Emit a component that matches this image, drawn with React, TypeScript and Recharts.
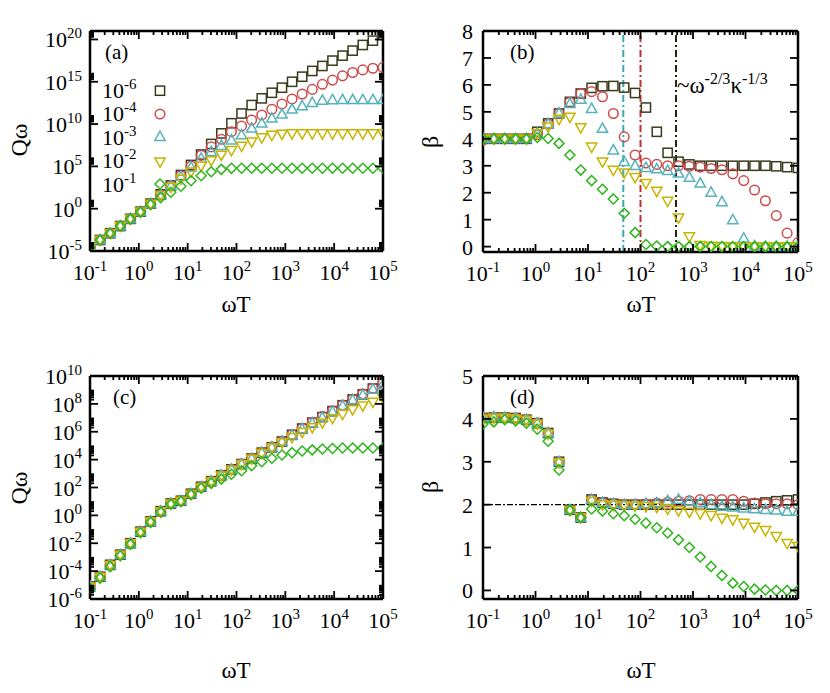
import React from "react";
import { ScatterChart, Scatter, XAxis, YAxis, ReferenceLine } from "recharts";

const FONT = '"Liberation Serif", "Times New Roman", serif';

// omega*T sample points, 30 log-spaced values per run
const omegaT = [
  0.1, 0.161, 0.2593, 0.4175, 0.6723, 1.0826, 1.7433, 2.807, 4.52, 7.279,
  11.72, 18.87, 30.39, 48.94, 78.8, 126.9, 204.3, 329.0, 529.8, 853.1,
  1374, 2212, 3562, 5736, 9237, 14874, 23950, 38566, 62102, 100000,
];

// kappa values of the five runs (legend exponents)
const kappaExp = ["-6", "-4", "-3", "-2", "-1"];

// (a) log10 Q_omega
const aK6 = [-4.6, -3.7, -2.9, -2.05, -1.2, -0.35, 0.6, 1.7, 2.75, 3.98, 5.17, 6.4, 7.65, 8.9, 10.1, 11.25, 12.25, 13.04, 13.7, 14.3, 15.0, 15.6, 16.28, 16.87, 17.5, 18.09, 18.68, 19.35, 19.86, 20.53];
const aK4 = [-4.6, -3.7, -2.9, -2.05, -1.2, -0.37, 0.58, 1.65, 2.7, 3.9, 5.05, 6.3, 7.3, 8.2, 9.1, 9.78, 10.49, 11.08, 11.75, 12.38, 12.97, 13.56, 14.1, 14.7, 15.2, 15.7, 16.1, 16.4, 16.6, 16.7];
const aK3 = [-4.6, -3.7, -2.9, -2.05, -1.2, -0.37, 0.57, 1.62, 2.68, 3.8, 4.9, 5.95, 6.75, 7.45, 8.1, 8.71, 9.5, 10.1, 10.69, 11.16, 11.75, 12.14, 12.53, 12.8, 12.86, 12.87, 12.87, 12.87, 12.87, 12.87];
const aK2 = [-4.6, -3.7, -2.9, -2.05, -1.2, -0.38, 0.55, 1.55, 2.55, 3.5, 4.35, 5.05, 5.7, 6.35, 6.9, 7.41, 7.92, 8.4, 8.7, 8.83, 8.87, 8.87, 8.87, 8.87, 8.87, 8.87, 8.87, 8.87, 8.87, 8.87];
const aK1 = [-4.6, -3.7, -2.9, -2.05, -1.2, -0.4, 0.5, 1.3, 1.94, 2.65, 3.3, 3.9, 4.37, 4.65, 4.77, 4.78, 4.78, 4.78, 4.78, 4.78, 4.78, 4.78, 4.78, 4.78, 4.78, 4.78, 4.78, 4.78, 4.78, 4.78];

// (b) beta
const bK6 = [4.0, 4.0, 4.0, 4.0, 4.0, 4.26, 4.57, 4.94, 5.37, 5.68, 5.89, 5.95, 5.96, 5.9, 5.7, 5.16, 4.26, 3.48, 3.15, 3.05, 3.0, 3.0, 3.0, 3.0, 3.0, 3.0, 3.0, 2.98, 2.95, 2.92];
const bK4 = [3.95, 4.0, 4.0, 4.0, 4.02, 4.15, 4.55, 4.95, 5.35, 5.68, 5.75, 5.56, 4.94, 4.07, 3.4, 3.1, 3.05, 3.0, 3.0, 2.98, 2.95, 2.9, 2.85, 2.7, 2.45, 2.1, 1.7, 1.15, 0.5, 0.15];
const bK3 = [4.0, 4.0, 4.0, 4.0, 4.0, 4.2, 4.55, 4.95, 5.3, 5.46, 5.12, 4.38, 3.58, 3.15, 3.0, 2.93, 2.88, 2.82, 2.72, 2.57, 2.35, 2.01, 1.66, 0.99, 0.31, 0.02, 0.0, 0.0, 0.0, 0.0];
const bK2 = [4.0, 4.0, 4.0, 4.0, 4.0, 4.2, 4.45, 4.73, 4.81, 4.42, 3.7, 3.15, 2.84, 2.74, 2.57, 2.35, 2.06, 1.69, 1.07, 0.37, 0.05, 0.02, 0.01, 0.0, 0.0, 0.0, 0.0, 0.0, 0.0, 0.0];
const bK1 = [4.0, 4.0, 4.0, 4.0, 4.0, 4.05, 4.01, 3.83, 3.4, 2.84, 2.45, 2.13, 1.77, 1.24, 0.52, 0.08, 0.02, 0.0, 0.0, 0.0, 0.0, 0.0, 0.0, 0.0, 0.0, 0.0, 0.0, 0.0, 0.0, 0.0];

// (c) log10 Q_omega
const cK6 = [-5.1, -4.4, -3.55, -2.82, -2.0, -1.17, -0.43, 0.3, 0.85, 1.05, 1.55, 2.05, 2.45, 2.88, 3.3, 3.68, 4.08, 4.5, 4.88, 5.3, 5.78, 6.23, 6.65, 7.05, 7.48, 7.9, 8.32, 8.68, 9.1, 9.5];
const cK4 = [-5.08, -4.38, -3.55, -2.82, -2.0, -1.17, -0.43, 0.3, 0.85, 1.05, 1.55, 2.05, 2.45, 2.88, 3.3, 3.7, 4.1, 4.52, 4.92, 5.34, 5.8, 6.25, 6.68, 7.1, 7.5, 7.92, 8.33, 8.72, 9.12, 9.55];
const cK3 = [-5.1, -4.4, -3.55, -2.82, -2.0, -1.17, -0.43, 0.3, 0.85, 1.05, 1.55, 2.05, 2.45, 2.88, 3.3, 3.68, 4.08, 4.5, 4.88, 5.3, 5.76, 6.2, 6.62, 7.02, 7.44, 7.86, 8.28, 8.64, 9.04, 9.42];
const cK2 = [-5.12, -4.42, -3.58, -2.84, -2.02, -1.19, -0.45, 0.28, 0.83, 1.03, 1.52, 2.02, 2.42, 2.84, 3.26, 3.66, 4.05, 4.45, 4.84, 5.22, 5.6, 5.97, 6.31, 6.65, 6.97, 7.27, 7.6, 7.87, 8.13, 8.42];
const cK1 = [-5.25, -4.5, -3.68, -2.9, -2.08, -1.25, -0.5, 0.22, 0.8, 1.0, 1.5, 1.95, 2.3, 2.6, 2.95, 3.2, 3.57, 3.85, 4.1, 4.33, 4.5, 4.62, 4.7, 4.76, 4.8, 4.83, 4.83, 4.83, 4.83, 4.83];

// (d) beta
const dK6 = [4.02, 4.03, 4.03, 4.02, 3.98, 3.9, 3.67, 3.0, 1.88, 1.7, 2.12, 2.05, 2.02, 2.0, 2.0, 2.0, 2.0, 2.0, 2.0, 2.0, 2.0, 2.0, 2.0, 2.0, 2.0, 2.02, 2.05, 2.08, 2.1, 2.12];
const dK4 = [4.03, 4.03, 4.03, 4.02, 3.98, 3.9, 3.67, 3.0, 1.88, 1.7, 2.12, 2.05, 2.02, 2.01, 2.01, 2.02, 2.04, 2.06, 2.08, 2.09, 2.12, 2.12, 2.12, 2.12, 2.08, 2.04, 2.02, 2.02, 2.02, 2.0];
const dK3 = [4.03, 4.05, 4.03, 4.02, 3.98, 3.9, 3.67, 3.0, 1.88, 1.7, 2.12, 2.05, 2.02, 2.0, 2.0, 2.02, 2.04, 2.09, 2.12, 2.08, 2.04, 2.0, 1.96, 1.94, 1.92, 1.9, 1.88, 1.87, 1.84, 1.84];
const dK2 = [4.0, 4.02, 4.02, 4.0, 3.97, 3.88, 3.65, 2.98, 1.87, 1.7, 2.08, 2.0, 1.99, 1.98, 1.97, 1.96, 1.94, 1.9, 1.86, 1.83, 1.79, 1.75, 1.69, 1.65, 1.57, 1.48, 1.4, 1.26, 1.1, 1.03];
const dK1 = [3.88, 3.93, 3.98, 3.95, 3.9, 3.76, 3.48, 2.81, 1.87, 1.7, 1.9, 1.85, 1.79, 1.74, 1.66, 1.57, 1.46, 1.34, 1.18, 1.0, 0.78, 0.56, 0.35, 0.17, 0.09, 0.03, 0.01, 0.0, 0.0, 0.0];

// crossover frequencies marked in (b)
const crossK3 = 47;
const crossK4 = 100;
const crossK6 = 475;

const kinds = ["square", "circle", "tri", "itri", "diam"];
const colors = ["#3a3a1c", "#cc4a4a", "#55b2bc", "#c8b400", "#2db51a"];

const TICK_FONT = 22;

const xMajors = [0.1, 1, 10, 100, 1000, 10000, 100000];
const withMinors = (majors: number[], max: number) => {
  const out: number[] = [];
  majors.forEach((m) => {
    out.push(m);
    for (let j = 2; j <= 9; j++) if (m * j <= max) out.push(m * j);
  });
  return out;
};

const isMajor = (v: number, majors: number[]) =>
  majors.some((m) => Math.abs(m - v) <= Math.abs(m) * 1e-9);

const toPoints = (ys: number[], log: boolean) =>
  omegaT.map((x, i) => ({ x, y: log ? Math.pow(10, ys[i]) : ys[i] }));

const Marker = ({ cx, cy, kind, color }: any) => {
  if (cx == null || cy == null) return <g />;
  const s = { fill: "none", stroke: color, strokeWidth: 1.5 };
  if (kind === "square") return <rect x={cx - 4.6} y={cy - 4.6} width={9.2} height={9.2} {...s} />;
  if (kind === "circle") return <circle cx={cx} cy={cy} r={4.8} {...s} />;
  if (kind === "tri")
    return <polygon points={`${cx},${cy - 5.5} ${cx - 5.2},${cy + 3.8} ${cx + 5.2},${cy + 3.8}`} {...s} />;
  if (kind === "itri")
    return <polygon points={`${cx},${cy + 5.5} ${cx - 5.2},${cy - 3.8} ${cx + 5.2},${cy - 3.8}`} {...s} />;
  return <polygon points={`${cx},${cy - 5} ${cx + 5},${cy} ${cx},${cy + 5} ${cx - 5},${cy}`} {...s} />;
};

const Pow = ({ x, y, exp, anchor, size = TICK_FONT }: any) => (
  <text x={x} y={y} textAnchor={anchor} fontFamily={FONT} fontSize={size} fill="#000">
    10
    <tspan dy={-size * 0.42} fontSize={size * 0.68}>
      {exp}
    </tspan>
  </text>
);

const AXIS = { stroke: "#000", strokeWidth: 2.5 };

const xTick = (side: string, labelDy: number) => (p: any) => {
  const v = p.payload.value;
  const major = isMajor(v, xMajors);
  const len = major ? 8 : 4;
  const dir = side === "bottom" ? -1 : 1;
  return (
    <g>
      <line x1={p.x} y1={p.y} x2={p.x} y2={p.y + dir * len} stroke="#000" strokeWidth={1.8} />
      {major && side === "bottom" && (
        <Pow x={p.x} y={p.y + labelDy} exp={Math.round(Math.log10(v))} anchor="middle" />
      )}
    </g>
  );
};

const yTick = (side: string, majors: number[], log: boolean, labelDx: number) => (p: any) => {
  const v = p.payload.value;
  const major = isMajor(v, majors);
  const len = major ? 8 : 4;
  const dir = side === "left" ? 1 : -1;
  return (
    <g>
      <line x1={p.x} y1={p.y} x2={p.x + dir * len} y2={p.y} stroke="#000" strokeWidth={1.8} />
      {major && side === "left" &&
        (log ? (
          <Pow x={p.x - labelDx} y={p.y + 8} exp={Math.round(Math.log10(v))} anchor="end" />
        ) : (
          <text x={p.x - labelDx} y={p.y + 8} textAnchor="end" fontFamily={FONT} fontSize={TICK_FONT} fill="#000">
            {v}
          </text>
        ))}
    </g>
  );
};

function Panel({ left, top, width, height, margin, yLog, yDomain, yMajors, yTicks, labelDx, xLabelDy, runs, vLines, hLine }: any) {
  const yScale = yLog ? "log" : "linear";
  return (
    <div style={{ position: "absolute", left, top }}>
      <ScatterChart width={width} height={height} margin={margin}>
        <XAxis xAxisId="b" dataKey="x" type="number" scale="log" domain={[0.1, 1e5]} allowDataOverflow
          ticks={withMinors(xMajors, 1e5)} interval={0} tickSize={0} tickMargin={0} height={10}
          axisLine={AXIS} tickLine={false} tick={xTick("bottom", xLabelDy)} />
        <XAxis xAxisId="t" orientation="top" dataKey="x" type="number" scale="log" domain={[0.1, 1e5]} allowDataOverflow
          ticks={withMinors(xMajors, 1e5)} interval={0} tickSize={0} tickMargin={0} height={10}
          axisLine={AXIS} tickLine={false} tick={xTick("top", 0)} />
        <YAxis yAxisId="l" dataKey="y" type="number" scale={yScale} domain={yDomain} allowDataOverflow
          ticks={yTicks} interval={0} tickSize={0} tickMargin={0} width={10}
          axisLine={AXIS} tickLine={false} tick={yTick("left", yMajors, yLog, labelDx)} />
        <YAxis yAxisId="r" orientation="right" dataKey="y" type="number" scale={yScale} domain={yDomain} allowDataOverflow
          ticks={yTicks} interval={0} tickSize={0} tickMargin={0} width={10}
          axisLine={AXIS} tickLine={false} tick={yTick("right", yMajors, yLog, 0)} />
        {hLine != null && (
          <ReferenceLine xAxisId="b" yAxisId="l" y={hLine} stroke="#000" strokeWidth={1.2} strokeDasharray="6 2 2 2" />
        )}
        {(vLines || []).map((v: any) => (
          <ReferenceLine key={v.x} xAxisId="b" yAxisId="l" x={v.x} stroke={v.color} strokeWidth={2} strokeDasharray="7 3 2 3" />
        ))}
        {runs.map((ys: number[], i: number) => (
          <Scatter key={i} xAxisId="b" yAxisId="l" data={toPoints(ys, yLog)} isAnimationActive={false}
            shape={(p: any) => <Marker cx={p.cx} cy={p.cy} kind={kinds[i]} color={colors[i]} />} />
        ))}
      </ScatterChart>
    </div>
  );
}

const qMajorsA = [1e-5, 1, 1e5, 1e10, 1e15, 1e20];
const qMajorsC = [1e-6, 1e-4, 1e-2, 1, 1e2, 1e4, 1e6, 1e8, 1e10];
const betaB = [0, 1, 2, 3, 4, 5, 6, 7, 8];
const betaD = [0, 1, 2, 3, 4, 5];

export default function App() {
  const txt = { fontFamily: FONT, fill: "#000" };
  return (
    <div style={{ position: "absolute", left: 0, top: 0, width: 830, height: 693, background: "#fff" }}>
      <Panel left={0} top={0} width={415} height={345} margin={{ top: 21, right: 22, bottom: 84, left: 80 }}
        yLog yDomain={[1e-5, 1e21]} yMajors={qMajorsA} yTicks={withMinors(qMajorsA, 1e21)} labelDx={8} xLabelDy={29}
        runs={[aK6, aK4, aK3, aK2, aK1]} />
      <Panel left={415} top={0} width={415} height={345} margin={{ top: 21, right: 22, bottom: 83, left: 58 }}
        yLog={false} yDomain={[-0.2, 8]} yMajors={betaB} yTicks={betaB} labelDx={10} xLabelDy={29}
        runs={[bK6, bK4, bK3, bK2, bK1]}
        vLines={[{ x: crossK3, color: "#3aa8b5" }, { x: crossK4, color: "#c03030" }, { x: crossK6, color: "#22220f" }]} />
      <Panel left={0} top={345} width={415} height={348} margin={{ top: 21, right: 22, bottom: 84, left: 80 }}
        yLog yDomain={[1e-6, 1e10]} yMajors={qMajorsC} yTicks={withMinors(qMajorsC, 1e10)} labelDx={8} xLabelDy={29}
        runs={[cK6, cK4, cK3, cK2, cK1]} />
      <Panel left={415} top={345} width={415} height={348} margin={{ top: 21, right: 22, bottom: 84, left: 58 }}
        yLog={false} yDomain={[-0.2, 5]} yMajors={betaD} yTicks={betaD} labelDx={10} xLabelDy={29}
        runs={[dK6, dK4, dK3, dK2, dK1]} hLine={2} />

      <svg width={830} height={693} style={{ position: "absolute", left: 0, top: 0, pointerEvents: "none" }}>
        <text x={105} y={59} fontSize={21} {...txt}>(a)</text>
        <text x={510} y={59} fontSize={21} {...txt}>(b)</text>
        <text x={113} y={404} fontSize={21} {...txt}>(c)</text>
        <text x={510} y={404} fontSize={21} {...txt}>(d)</text>

        {kappaExp.map((e, i) => (
          <g key={e}>
            <Pow x={102} y={[98, 121, 145, 168, 192][i]} exp={e} anchor="start" size={22} />
            <Marker cx={160} cy={[90.7, 114, 136.7, 161.7, 184][i]} kind={kinds[i]} color={colors[i]} />
          </g>
        ))}

        <text x={677} y={93} fontSize={23} {...txt}>
          ~ω<tspan dy={-9} fontSize={16}>-2/3</tspan>
          <tspan dy={9}>κ</tspan>
          <tspan dy={-9} fontSize={16}>-1/3</tspan>
        </text>

        <text x={27} y={140} fontSize={24} textAnchor="middle" transform="rotate(-90 27 140)" {...txt}>Qω</text>
        <text x={27} y={488} fontSize={24} textAnchor="middle" transform="rotate(-90 27 488)" {...txt}>Qω</text>
        <text x={438} y={142} fontSize={24} textAnchor="middle" transform="rotate(-90 438 142)" {...txt}>β</text>
        <text x={438} y={487} fontSize={24} textAnchor="middle" transform="rotate(-90 438 487)" {...txt}>β</text>

        <text x={236} y={312} fontSize={23} textAnchor="middle" {...txt}>ωT</text>
        <text x={641} y={312} fontSize={23} textAnchor="middle" {...txt}>ωT</text>
        <text x={236} y={678} fontSize={23} textAnchor="middle" {...txt}>ωT</text>
        <text x={641} y={678} fontSize={23} textAnchor="middle" {...txt}>ωT</text>
      </svg>
    </div>
  );
}
